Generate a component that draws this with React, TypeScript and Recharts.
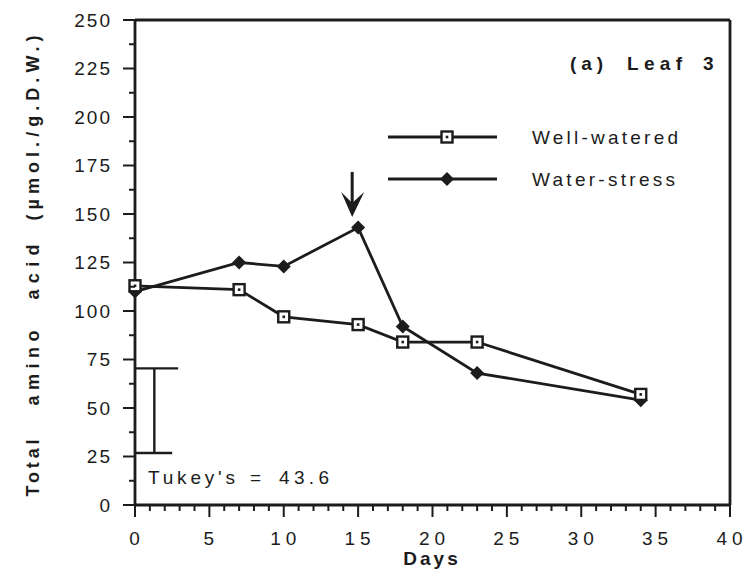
import {
  Label,
  Legend,
  Line,
  LineChart,
  ReferenceDot,
  ReferenceLine,
  XAxis,
  YAxis,
} from 'recharts';

const DAYS = [0, 7, 10, 15, 18, 23, 34];
const WELL_WATERED = [113, 111, 97, 93, 84, 84, 57];
const WATER_STRESS = [110, 125, 123, 143, 92, 68, 54];

const X_TICKS = Array.from({ length: 41 }, (_, i) => i);
const Y_TICKS = Array.from({ length: 21 }, (_, i) => i * 12.5);

// Tukey's HSD bar (43.6)
const TUKEY_HIGH = 70.4;
const TUKEY_LOW = 26.8;
const TUKEY_X = 1.3;
const TUKEY_TOP_END = 2.9;
const TUKEY_BOTTOM_END = 2.5;

// arrow marking re-watering
const ARROW_DAY = 14.6;
const ARROW_TIP = 148.5;

const data = DAYS.map((d, i) => ({
  day: d,
  well: WELL_WATERED[i],
  stress: WATER_STRESS[i],
}));

const INK = '#1c1c1c';
const FONT = '"Liberation Sans", Arial, Helvetica, sans-serif';

const XTick = ({ x, y, payload }: any) => {
  const v = payload.value;
  const major = v % 5 === 0;
  return (
    <g>
      <line x1={x} x2={x} y1={y - 1} y2={y + (major ? 12 : 6)} stroke={INK} strokeWidth={2} />
      {major && (
        <text
          x={x + 2}
          y={y + 33}
          textAnchor="middle"
          dominantBaseline="central"
          fontFamily={FONT}
          fontSize={19}
          letterSpacing={5}
          fill={INK}
        >
          {v}
        </text>
      )}
    </g>
  );
};

const YTick = ({ x, y, payload }: any) => {
  const v = payload.value;
  const major = v % 25 === 0;
  return (
    <g>
      <line x1={x} x2={x - (major ? 12 : 6)} y1={y} y2={y} stroke={INK} strokeWidth={2} />
      {major && (
        <text
          x={x - 23}
          y={y}
          textAnchor="end"
          dominantBaseline="central"
          fontFamily={FONT}
          fontSize={19}
          letterSpacing={2}
          fill={INK}
        >
          {v}
        </text>
      )}
    </g>
  );
};

const SquareDot = (p: any) => {
  const { cx, cy } = p;
  return (
    <g key={`sq-${cx}-${cy}`}>
      <rect x={cx - 5.5} y={cy - 5.5} width={11} height={11} fill="#fff" stroke={INK} strokeWidth={2.4} />
      <rect x={cx - 1.3} y={cy - 1.3} width={2.6} height={2.6} fill={INK} />
    </g>
  );
};

const DiamondDot = (p: any) => {
  const { cx, cy } = p;
  return (
    <polygon
      key={`dm-${cx}-${cy}`}
      points={`${cx},${cy - 7} ${cx + 7},${cy} ${cx},${cy + 7} ${cx - 7},${cy}`}
      fill={INK}
    />
  );
};

// pieces of text placed by hand: [text, position, length]
const Pieces = ({ items, y, bold, rotate }: any) => (
  <g>
    {items.map(([w, pos, len]: [string, number, number]) => (
      <text
        key={w}
        x={0}
        y={0}
        transform={rotate ? `translate(${y}, ${pos}) rotate(-90)` : `translate(${pos}, ${y})`}
        textAnchor={rotate ? 'middle' : 'start'}
        dominantBaseline="central"
        fontFamily={FONT}
        fontWeight={bold ? 'bold' : 'normal'}
        fontSize={rotate ? 18 : 19}
        textLength={len}
        lengthAdjust="spacing"
        fill={INK}
      >
        {w}
      </text>
    ))}
  </g>
);

const YAxisTitle = () => (
  <Pieces
    rotate
    bold
    y={33}
    items={[
      ['Total', 468, 57],
      ['amino', 368, 75],
      ['acid', 272, 55],
      ['(µmol./g.D.W.)', 128, 185],
    ]}
  />
);

const DaysTitle = () => (
  <text
    x={432}
    y={558}
    textAnchor="middle"
    dominantBaseline="central"
    fontFamily={FONT}
    fontWeight="bold"
    fontSize={19}
    letterSpacing={3}
    fill={INK}
  >
    Days
  </text>
);

const LegendBox = () => (
  <svg width={330} height={80}>
    <line x1={3} x2={112} y1={17} y2={17} stroke={INK} strokeWidth={2.8} />
    <SquareDot cx={62} cy={17} />
    <text x={147} y={17} dominantBaseline="central" fontFamily={FONT} fontSize={19} textLength={146} lengthAdjust="spacing" fill={INK}>
      Well-watered
    </text>
    <line x1={3} x2={112} y1={59} y2={59} stroke={INK} strokeWidth={2.8} />
    <DiamondDot cx={62} cy={59} />
    <text x={147} y={59} dominantBaseline="central" fontFamily={FONT} fontSize={19} textLength={143} lengthAdjust="spacing" fill={INK}>
      Water-stress
    </text>
  </svg>
);

const Arrow = ({ cx, cy }: any) => (
  <g>
    <line x1={cx} x2={cx} y1={cy - 45} y2={cy - 12} stroke={INK} strokeWidth={3} />
    <path d={`M${cx},${cy} L${cx - 11},${cy - 25} L${cx},${cy - 14} L${cx + 12},${cy - 25} Z`} fill={INK} />
  </g>
);

export default function App() {
  return (
    <div style={{ position: 'absolute', left: 0, top: 0, background: '#fff' }}>
      <LineChart
        width={749}
        height={571}
        data={data}
        margin={{ top: 20, right: 19, left: 75, bottom: 6 }}
      >
        <XAxis
          dataKey="day"
          type="number"
          domain={[0, 40]}
          ticks={X_TICKS}
          interval={0}
          tickSize={0}
          tickMargin={0}
          tickLine={false}
          tick={<XTick />}
          height={60}
          axisLine={{ stroke: INK, strokeWidth: 2.8 }}
        >
          <Label content={<DaysTitle />} />
        </XAxis>
        <YAxis
          type="number"
          domain={[0, 250]}
          ticks={Y_TICKS}
          interval={0}
          tickSize={0}
          tickMargin={0}
          tickLine={false}
          tick={<YTick />}
          width={60}
          axisLine={{ stroke: INK, strokeWidth: 2.8 }}
        >
          <Label content={<YAxisTitle />} />
        </YAxis>
        <ReferenceLine y={250} stroke={INK} strokeWidth={2.8} />
        <ReferenceLine x={40} stroke={INK} strokeWidth={2.8} />

        <ReferenceLine segment={[{ x: 0, y: TUKEY_HIGH }, { x: TUKEY_TOP_END, y: TUKEY_HIGH }]} stroke={INK} strokeWidth={2.4} />
        <ReferenceLine segment={[{ x: TUKEY_X, y: TUKEY_HIGH }, { x: TUKEY_X, y: TUKEY_LOW }]} stroke={INK} strokeWidth={2.4} />
        <ReferenceLine segment={[{ x: 0, y: TUKEY_LOW }, { x: TUKEY_BOTTOM_END, y: TUKEY_LOW }]} stroke={INK} strokeWidth={2.4} />

        <ReferenceDot
          x={0}
          y={14}
          r={0}
          shape={({ cy }: any) => (
            <Pieces
              y={cy}
              items={[
                ["Tukey's", 148, 87],
                ['=', 250, 15],
                ['43.6', 279, 50],
              ]}
            />
          )}
        />
        <ReferenceDot
          x={34.1}
          y={227.8}
          r={0}
          shape={({ cy }: any) => (
            <Pieces
              bold
              y={cy}
              items={[
                ['(a)', 570, 33],
                ['Leaf', 627, 55],
                ['3', 703, 12],
              ]}
            />
          )}
        />
        <ReferenceDot x={ARROW_DAY} y={ARROW_TIP} r={0} shape={<Arrow />} />

        <Legend
          layout="horizontal"
          verticalAlign="middle"
          align="center"
          content={<LegendBox />}
          wrapperStyle={{ position: 'absolute', left: 385, top: 120, width: 330 }}
        />

        <Line
          dataKey="stress"
          stroke={INK}
          strokeWidth={2.8}
          dot={<DiamondDot />}
          isAnimationActive={false}
        />
        <Line
          dataKey="well"
          stroke={INK}
          strokeWidth={2.8}
          dot={<SquareDot />}
          isAnimationActive={false}
        />
      </LineChart>
    </div>
  );
}
